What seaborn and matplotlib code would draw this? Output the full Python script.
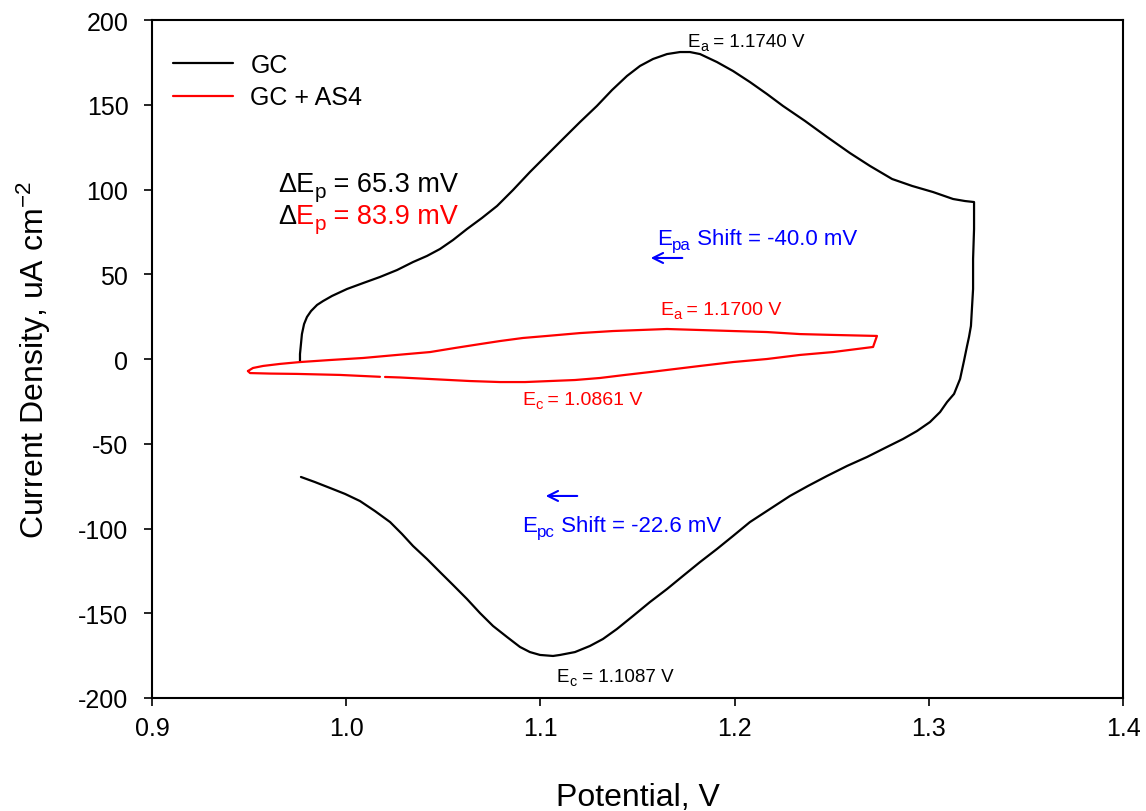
import matplotlib
matplotlib.use("Agg")
import matplotlib.pyplot as plt
import matplotlib.transforms as mtransforms
import seaborn as sns
import pandas as pd
import numpy as np

# ---------------- data ----------------
# GC: anodic sweep then cathodic sweep
gc_E = [0.9762, 0.9762, 0.9767, 0.9772, 0.9783, 0.9798, 0.9819, 0.9850, 0.9881, 0.9927,
        1.0004, 1.0087, 1.0174, 1.0262, 1.0344, 1.0416, 1.0483, 1.0550, 1.0622, 1.0699,
        1.0777, 1.0859, 1.0946, 1.1034, 1.1116, 1.1204, 1.1291, 1.1369, 1.1446, 1.1513,
        1.1580, 1.1652, 1.1719, 1.1770, 1.1822, 1.1909, 1.1992, 1.2079, 1.2167, 1.2249,
        1.2363, 1.2476, 1.2594, 1.2697, 1.2811, 1.2914, 1.3022, 1.3125, 1.3186, 1.3233,
        1.3233, 1.3228, 1.3228, 1.3222, 1.3217, 1.3207, 1.3197, 1.3181, 1.3161, 1.3130,
        1.3094, 1.3058, 1.3006, 1.2939, 1.2867, 1.2774, 1.2682, 1.2579, 1.2476, 1.2378,
        1.2285, 1.2182, 1.2079, 1.1992, 1.1909, 1.1822, 1.1734, 1.1652, 1.1564, 1.1477,
        1.1394, 1.1322, 1.1255, 1.1178, 1.1101, 1.1065, 1.0998, 1.0946, 1.0895, 1.0828,
        1.0756, 1.0689, 1.0622, 1.0550, 1.0483, 1.0416, 1.0344, 1.0287, 1.0226, 1.0148,
        1.0071, 0.9994, 0.9917, 0.9839, 0.9767]
gc_J = [-1.5, 2.9, 8.8, 14.7, 20.6, 24.8, 28.3, 31.9, 34.2, 37.2,
        41.3, 44.8, 48.4, 52.5, 57.2, 60.8, 64.9, 70.2, 76.7, 83.2,
        90.3, 99.7, 110.3, 120.4, 129.8, 139.8, 149.3, 158.7, 167.0, 172.9,
        177.0, 179.9, 181.1, 181.1, 179.9, 175.2, 169.9, 163.4, 156.3, 149.3,
        140.4, 131.0, 121.5, 113.9, 106.2, 102.1, 98.5, 94.4, 93.2, 92.6,
        76.7, 59.0, 41.3, 29.5, 19.5, 13.0, 7.7, -1.2, -11.8, -20.6,
        -25.4, -31.3, -37.2, -42.5, -47.2, -52.5, -57.8, -63.1, -69.0, -74.9,
        -80.8, -88.5, -96.2, -104.4, -112.1, -119.8, -128.0, -135.7, -143.4, -151.6,
        -159.3, -165.2, -169.3, -172.9, -174.6, -175.2, -174.6, -172.9, -169.9, -164.0,
        -157.5, -149.9, -141.6, -133.3, -125.7, -118.0, -110.3, -103.2, -96.2, -89.7,
        -83.8, -79.6, -76.1, -72.6, -69.6]

# GC + AS4 (two pieces: the trace shows a tiny break on the lower branch)
as4_E_a = [0.9494, 0.9520, 0.9572, 0.9659, 0.9762, 0.9917, 1.0087, 1.0262, 1.0432, 1.0560,
           1.0689, 1.0792, 1.0910, 1.1034, 1.1204, 1.1374, 1.1513, 1.1652, 1.1822, 1.1992,
           1.2167, 1.2337, 1.2507, 1.2620, 1.2733, 1.2713, 1.2610, 1.2507, 1.2337, 1.2167,
           1.1992, 1.1822, 1.1693, 1.1564, 1.1436, 1.1307, 1.1178, 1.1049, 1.0921, 1.0792,
           1.0637, 1.0432, 1.0277, 1.0200]
as4_J_a = [-7.1, -5.3, -4.1, -2.9, -1.8, -0.6, 0.6, 2.4, 4.1, 6.5,
           8.8, 10.6, 12.4, 13.6, 15.3, 16.5, 17.1, 17.7, 17.1, 16.5,
           15.9, 14.7, 14.2, 13.9, 13.6, 7.1, 5.6, 4.1, 2.4, 0.0,
           -1.8, -4.1, -5.9, -7.7, -9.4, -11.2, -12.4, -13.0, -13.6, -13.6,
           -13.0, -11.8, -10.9, -10.6]
as4_E_b = [1.0174, 0.9968, 0.9747, 0.9608, 0.9505, 0.9494]
as4_J_b = [-10.5, -9.4, -8.8, -8.6, -8.3, -7.1]

series_names = ["GC", "GC + AS4"]
x_ticks = [0.9, 1.0, 1.1, 1.2, 1.3, 1.4]
y_ticks = [-200, -150, -100, -50, 0, 50, 100, 150, 200]

df = pd.concat([
    pd.DataFrame({"E": gc_E, "J": gc_J, "series": series_names[0], "seg": "g"}),
    pd.DataFrame({"E": as4_E_a, "J": as4_J_a, "series": series_names[1], "seg": "r1"}),
    pd.DataFrame({"E": as4_E_b, "J": as4_J_b, "series": series_names[1], "seg": "r2"}),
], ignore_index=True)

# ---------------- style ----------------
sns.set_style("ticks", rc={"text.color": "black", "axes.labelcolor": "black",
                           "xtick.color": "black", "ytick.color": "black",
                           "axes.edgecolor": "black"})
plt.rcParams["font.family"] = ["Liberation Sans", "DejaVu Sans"]
plt.rcParams["mathtext.fontset"] = "custom"
plt.rcParams["mathtext.rm"] = "Liberation Sans"
plt.rcParams["mathtext.it"] = "Liberation Sans"
plt.rcParams["mathtext.bf"] = "Liberation Sans:bold"

fig = plt.figure(figsize=(11.46, 8.12), dpi=100)
ax = fig.add_axes([152 / 1146, 1 - 699 / 812, (1123 - 152) / 1146, (699 - 21) / 812])

sns.lineplot(data=df, x="E", y="J", hue="series", units="seg", estimator=None,
             sort=False, palette={"GC": "black", "GC + AS4": "#ff0000"},
             linewidth=1.6, ax=ax)

ax.set_xlim(0.9, 1.4)
ax.set_ylim(-200, 200)
ax.set_xticks(x_ticks)
ax.set_xticklabels([f"{v:.1f}" for v in x_ticks])
ax.set_yticks(y_ticks)
ax.set_yticklabels([f"{v}" for v in y_ticks])
ax.tick_params(axis="both", direction="out", length=6, width=1.2, labelsize=18,
               colors="black", top=False, right=False)
ax.tick_params(axis="y", pad=11)
ax.tick_params(axis="x", pad=7)
for s in ax.spines.values():
    s.set_visible(True)
    s.set_color("black")
    s.set_linewidth(1.5)

ax.set_xlabel("Potential, V", fontsize=23, labelpad=30, color="black")
ax.set_ylabel(r"Current Density, uA cm$^{\mathregular{-2}}$", fontsize=23, labelpad=18,
              color="black")

leg = ax.legend(loc="upper left", bbox_to_anchor=(0.0216, 0.952), frameon=False,
                fontsize=18, handlelength=2.4, handletextpad=0.7, labelspacing=0.35,
                borderpad=0, borderaxespad=0)
for h in leg.get_lines():
    h.set_linewidth(1.6)
for t in leg.get_texts():
    t.set_color("black")

# ---------------- annotations (manual sub-scripts) ----------------
renderer = fig.canvas.get_renderer()
SUB_SCALE = 0.76
SUB_DROP = 0.22  # fraction of main font size (in points)


def rich(x, y, pieces, size):
    """pieces: list of (text, color, is_subscript); drawn left to right."""
    off = 0.0
    for txt, col, is_sub in pieces:
        fs = size * SUB_SCALE if is_sub else size
        dy = -SUB_DROP * size * fig.dpi / 72.0 if is_sub else 0.0
        tr = mtransforms.offset_copy(ax.transData, fig=fig, x=off, y=dy, units="dots")
        t = ax.text(x, y, txt, fontsize=fs, color=col, va="baseline", ha="left",
                    transform=tr)
        off += t.get_window_extent(renderer=renderer).width


K, R, B = "black", "#ff0000", "#0000ff"
rich(1.176, 184.7, [("E", K, False), ("a", K, True), (" = 1.1740 V", K, False)], 13.5)
rich(1.1085, -190, [("E", K, False), ("c", K, True), (" = 1.1087 V", K, False)], 13.5)
rich(1.1616, 26.5, [("E", R, False), ("a", R, True), (" = 1.1700 V", R, False)], 14)
rich(1.0905, -26.5, [("E", R, False), ("c", R, True), (" = 1.0861 V", R, False)], 14)
rich(1.160, 67.8, [("E", B, False), ("pa", B, True), (" Shift = -40.0 mV", B, False)], 16)
rich(1.0905, -101.5, [("E", B, False), ("pc", B, True), (" Shift = -22.6 mV", B, False)], 16)
rich(0.9649, 99.1, [("ΔE", K, False), ("p", K, True), (" = 65.3 mV", K, False)], 19.5)
rich(0.9649, 80.2, [("Δ", K, False), ("E", R, False), ("p", R, True), (" = 83.9 mV", R, False)], 19.5)

ax.annotate("", xy=(1.1554, 59.6), xytext=(1.1745, 59.6),
            arrowprops=dict(arrowstyle="->", color=B, lw=1.5, mutation_scale=18))
ax.annotate("", xy=(1.1013, -80.8), xytext=(1.1204, -80.8),
            arrowprops=dict(arrowstyle="->", color=B, lw=1.5, mutation_scale=18))

fig.savefig("out.png", dpi=100)
